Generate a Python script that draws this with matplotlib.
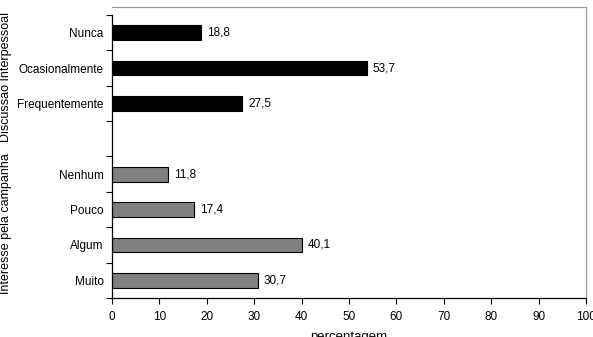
import matplotlib.pyplot as plt
import numpy as np

plt.rcParams['font.family'] = ['Liberation Sans', 'DejaVu Sans']

# categories, bottom to top (blank slot separates the two groups)
interesse_labels = ["Muito", "Algum", "Pouco", "Nenhum"]
interesse_vals = [30.7, 40.1, 17.4, 11.8]
discussao_labels = ["Frequentemente", "Ocasionalmente", "Nunca"]
discussao_vals = [27.5, 53.7, 18.8]

xticks = [0, 10, 20, 30, 40, 50, 60, 70, 80, 90, 100]

fig = plt.figure(figsize=(5.93, 3.37), dpi=100)
ax = fig.add_axes([112/593, 39/337, (586-112)/593, (298-7)/337])

y_int = np.arange(len(interesse_vals))
y_dis = np.arange(len(discussao_vals)) + len(interesse_vals) + 1

ax.barh(y_int, interesse_vals, height=0.42, color="#808080", edgecolor="black", linewidth=0.8)
ax.barh(y_dis, discussao_vals, height=0.42, color="black", edgecolor="black", linewidth=0.8)

for y, v in zip(y_int, interesse_vals):
    ax.text(v + 1.2, y, ("%.1f" % v).replace(".", ","), va="center", ha="left", fontsize=8.5)
for y, v in zip(y_dis, discussao_vals):
    ax.text(v + 1.2, y, ("%.1f" % v).replace(".", ","), va="center", ha="left", fontsize=8.5)

nslots = len(interesse_vals) + 1 + len(discussao_vals)
ax.set_xlim(0, 100)
ax.set_ylim(-0.5, nslots - 0.5 + 0.226)
ax.set_xticks(xticks)
ax.set_xticklabels([str(t) for t in xticks], fontsize=8.5)

# category labels as minor ticks at centres, tick marks at slot boundaries
ax.set_yticks(np.arange(nslots + 1) - 0.5)
ax.set_yticklabels([])
ax.set_yticks(list(y_int) + list(y_dis), minor=True)
ax.set_yticklabels(interesse_labels + discussao_labels, minor=True, fontsize=8.5)
ax.tick_params(axis="y", which="minor", length=0, pad=6)
ax.tick_params(axis="y", which="major", length=4, direction="out")
ax.tick_params(axis="x", length=4, direction="out", pad=5)

ax.spines["left"].set_bounds(-0.5, nslots - 0.5)
ax.spines["top"].set_color("#999999")
ax.spines["right"].set_color("#999999")
for s in ax.spines.values():
    s.set_linewidth(0.9)

ax.set_xlabel("percentagem", fontsize=9.5, labelpad=6)

fig.text(0.01, 1 - 77/337, "Discussão Interpessoal", rotation=90, va="center", ha="center", fontsize=9)
fig.text(0.01, 1 - 224/337, "Interesse pela campanha", rotation=90, va="center", ha="center", fontsize=9)

fig.savefig("out.png", dpi=100)
